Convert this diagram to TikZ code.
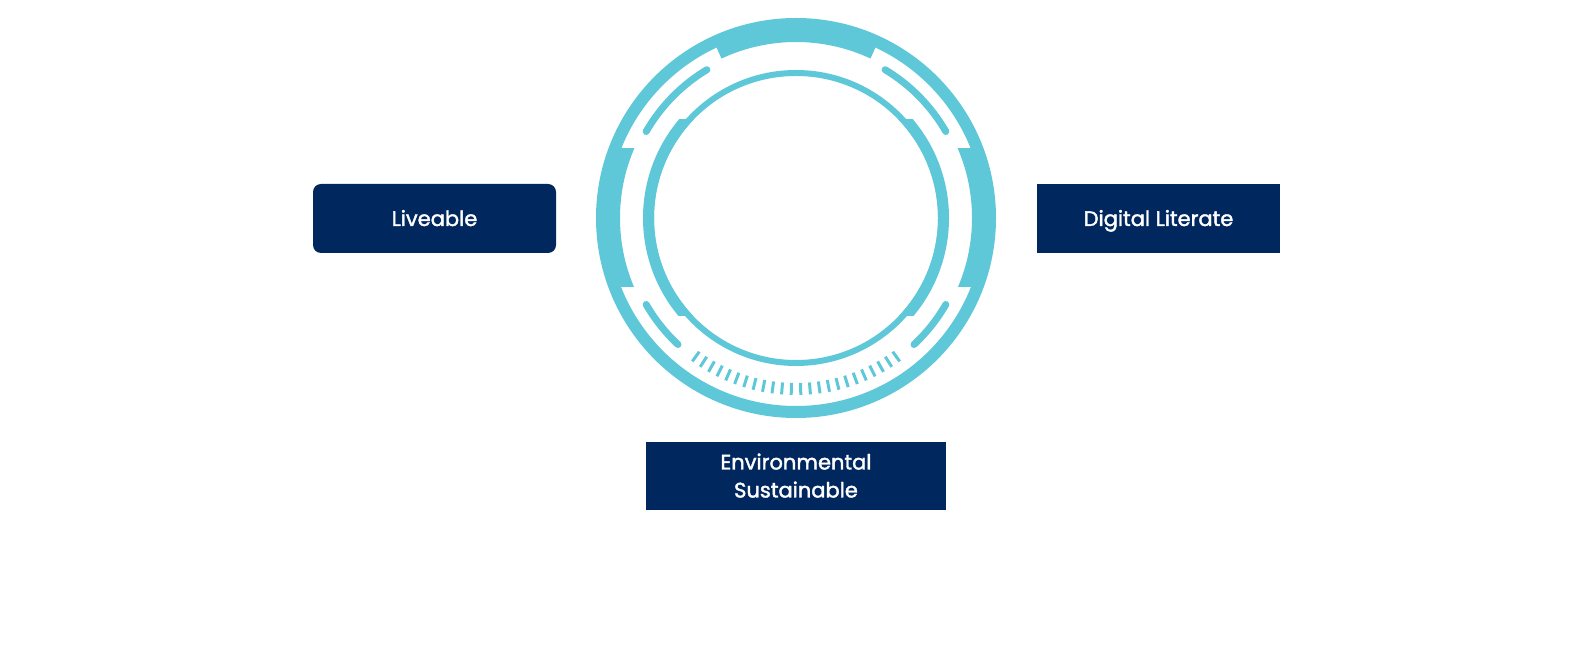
\documentclass[tikz,border=0pt]{standalone}
\usepackage{fontspec}
\setmainfont{Poppins}
\newfontfamily\pillarfont{Poppins}[FakeBold=1.8]
\definecolor{ringcyan}{RGB}{94,200,216}
\definecolor{pillarnavy}{RGB}{0,40,95}

\begin{document}
\begin{tikzpicture}[x=1pt,y=1pt,
  band/.style={draw=ringcyan},
  pillar/.style={fill=pillarnavy,text=white,inner sep=0pt,align=center,
    text height=15pt,text depth=0pt,
    minimum width=243pt,minimum height=69pt,font=\pillarfont\fontsize{21}{28}\selectfont}]
\useasboundingbox (0,0) rectangle (1587,656);
\coordinate (hub) at (796,438);
\begin{scope}[shift={(hub)}]
% The outer ring
\draw[band,line width=12pt] (0,0) circle (194);
\draw[band,line width=18pt] (65:185) arc[start angle=65,end angle=115,radius=185];
\begin{scope}
  \clip (-210,-69) rectangle (210,69);
  \draw[band,line width=18pt] (0,0) circle (185);
\end{scope}
% The inner ring
\draw[band,line width=6pt] (0,0) circle (145);
\begin{scope}
  \clip (-160,-98) rectangle (160,98);
  \draw[band,line width=11pt] (0,0) circle (147.5);
\end{scope}
% The rounded arcs between the rings
\foreach \from/\to in {30/59,121/150,210/227,313/330}
  \draw[band,line width=7pt,line cap=round] (\from:173) arc[start angle=\from,end angle=\to,radius=173];
% The ticks at the bottom
\foreach \k in {0,...,23}
  \draw[band,line width=3pt] ({234.12+3.12*\k}:165) -- ({234.12+3.12*\k}:177);
\end{scope}
% The labels
\node[pillar,rounded corners=8pt] (liveable) at (434.5,437.5) {Liveable};
\node[pillar] (digital) at (1158.5,437.5) {Digital Literate};
\node[pillar,text height=43pt,minimum width=300pt,minimum height=68pt] (environ) at (796,180) {Environmental\\Sustainable};
\end{tikzpicture}
\end{document}
